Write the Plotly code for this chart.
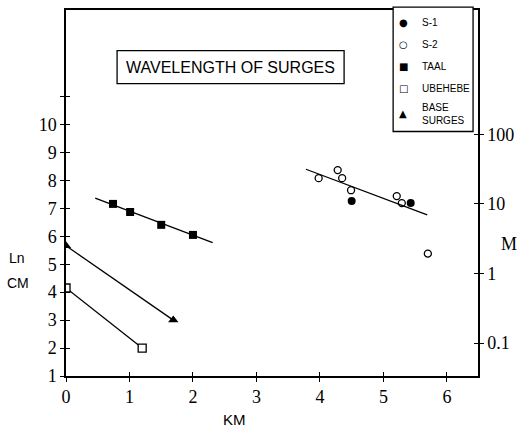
import plotly.graph_objects as go

# Distance from source (km) vs. natural log of wavelength (ln cm)
s1_km = [4.50, 5.43]
s1_ln = [7.26, 7.19]

s2_km = [3.98, 4.28, 4.35, 4.49, 5.21, 5.29, 5.70]
s2_ln = [8.08, 8.37, 8.08, 7.65, 7.44, 7.19, 5.38]

taal_km = [0.74, 1.01, 1.50, 2.00]
taal_ln = [7.16, 6.87, 6.41, 6.05]

ube_km = [0.0, 1.20]
ube_ln = [4.15, 2.00]

base_km = [0.0, 1.69]
base_ln = [5.66, 3.00]

# Fitted trend lines
taal_fit_km = [0.46, 2.31]
taal_fit_ln = [7.37, 5.77]
s_fit_km = [3.78, 5.69]
s_fit_ln = [8.40, 6.77]

x_ticks = [0, 1, 2, 3, 4, 5, 6]
y_ticks = [1, 2, 3, 4, 5, 6, 7, 8, 9, 10, 11]
y_tick_text = ["1", "2", "3", "4", "5", "6", "7", "8", "9", "10", ""]
m_ticks = [0.1, 1, 10, 100]
m_tick_text = ["0.1", "1", "10", "100"]

legend_names = ["S-1", "S-2", "TAAL", "UBEHEBE", "BASE<br>SURGES"]
legend_glyphs = ["●", "○", "■", "□", "▲"]

X_RANGE = [0, 6.49]
Y_RANGE = [1, 14.1]
M_RANGE = [-1.474, 3.787]  # log10 metres, aligned with the ln-cm scale

SERIF = "Liberation Serif"
SANS = "Liberation Sans"
LINE = dict(color="black", width=1.3)

fig = go.Figure()

fig.add_trace(go.Scatter(x=taal_fit_km, y=taal_fit_ln, mode="lines", line=LINE))
fig.add_trace(go.Scatter(x=s_fit_km, y=s_fit_ln, mode="lines", line=LINE))
fig.add_trace(go.Scatter(x=base_km, y=base_ln, mode="lines", line=LINE))
fig.add_trace(go.Scatter(x=ube_km, y=ube_ln, mode="lines", line=LINE))

fig.add_trace(go.Scatter(x=taal_km, y=taal_ln, mode="markers",
                         marker=dict(symbol="square", size=8, color="black")))
fig.add_trace(go.Scatter(x=s2_km, y=s2_ln, mode="markers",
                         marker=dict(symbol="circle-open", size=7, color="black",
                                     line=dict(width=1.3))))
fig.add_trace(go.Scatter(x=s1_km, y=s1_ln, mode="markers",
                         marker=dict(symbol="circle", size=8, color="black")))
fig.add_trace(go.Scatter(x=ube_km, y=ube_ln, mode="markers",
                         marker=dict(symbol="square", size=8, color="white",
                                     line=dict(width=1.3, color="black"))))
fig.add_trace(go.Scatter(x=base_km, y=base_ln, mode="markers",
                         marker=dict(symbol="triangle-up", size=9, color="black")))

# Empty traces so the secondary / tick-overlay axes are laid out
for xa, ya in [("x", "y2"), ("x3", "y"), ("x", "y3"), ("x", "y4")]:
    fig.add_trace(go.Scatter(x=[], y=[], xaxis=xa, yaxis=ya, mode="markers",
                             hoverinfo="skip"))

axis_common = dict(showgrid=False, zeroline=False, showline=True, linecolor="black",
                   linewidth=1.5, ticks="outside", ticklen=4, tickwidth=1.2,
                   tickcolor="black", tickfont=dict(family=SERIF, size=18, color="black"))

inner_ticks = dict(showgrid=False, zeroline=False, showline=False, ticks="inside",
                   ticklen=4, tickwidth=1.2, tickcolor="black", showticklabels=False)

fig.update_layout(
    width=522, height=432,
    margin=dict(l=66, r=44, t=8, b=56),
    paper_bgcolor="white", plot_bgcolor="white",
    showlegend=False,
    xaxis=dict(range=X_RANGE, tickmode="array", tickvals=x_ticks, mirror=True,
               **axis_common),
    yaxis=dict(range=Y_RANGE, tickmode="array", tickvals=y_ticks, ticktext=y_tick_text,
               **axis_common),
    yaxis2=dict(overlaying="y", side="right", anchor="x", type="log", range=M_RANGE,
                tickmode="array", tickvals=m_ticks, ticktext=m_tick_text, **axis_common),
    xaxis3=dict(overlaying="x", anchor="y", range=X_RANGE, tickmode="array",
                tickvals=x_ticks, **inner_ticks),
    yaxis3=dict(overlaying="y", side="left", anchor="x", range=Y_RANGE, tickmode="array",
                tickvals=y_ticks, **inner_ticks),
    yaxis4=dict(overlaying="y", side="right", anchor="x", type="log", range=M_RANGE,
                tickmode="array", tickvals=m_ticks, **inner_ticks),
)


def label(text, x, y, family=SANS, size=14, xanchor="center"):
    fig.add_annotation(text=text, x=x, y=y, xref="paper", yref="paper",
                       xanchor=xanchor, yanchor="middle", align="left",
                       showarrow=False,
                       font=dict(family=family, size=size, color="black"))


# Axis titles
label("KM", 0.409, -0.120, size=15)
label("Ln", -0.118, 0.323)
label("CM", -0.116, 0.255)
label("M", 1.075, 0.361, family=SERIF, size=18)

# Title box
fig.add_shape(type="rect", xref="paper", yref="paper", x0=0.124, x1=0.675,
              y0=0.799, y1=0.889, line=dict(color="black", width=1.3))
label("WAVELENGTH OF SURGES", 0.3995, 0.844, size=16)

# Legend box
fig.add_shape(type="rect", xref="paper", yref="paper", x0=0.794, x1=0.988,
              y0=0.668, y1=1.008, line=dict(color="black", width=1.3),
              fillcolor="white")
row_y = [0.967, 0.905, 0.845, 0.785, 0.717]
for name, glyph, ry in zip(legend_names, legend_glyphs, row_y):
    label(glyph, 0.818, ry, family="DejaVu Sans", size=10)
    label(name, 0.859, ry, size=10, xanchor="left")

fig.write_html("out.html")
